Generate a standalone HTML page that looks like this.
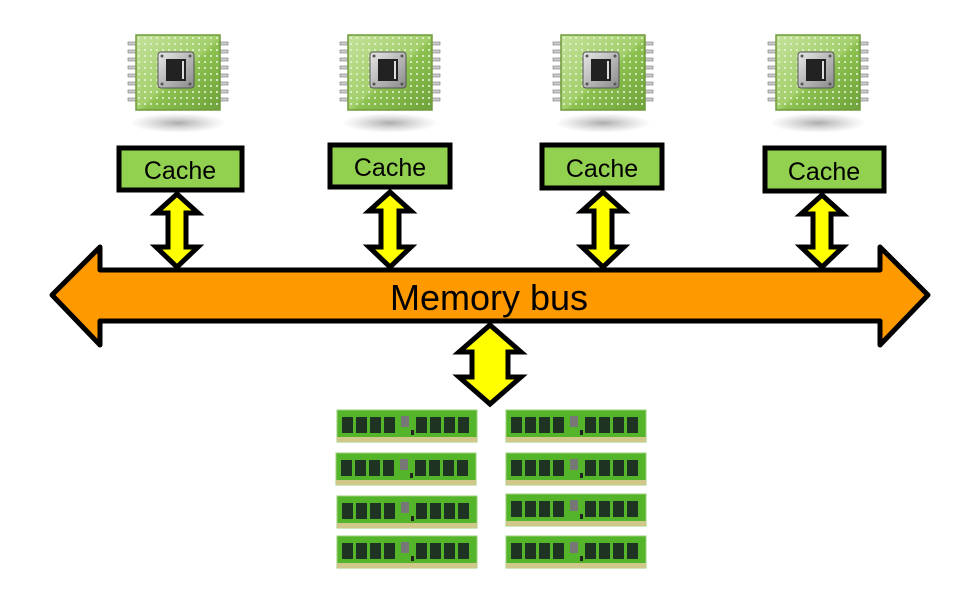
<!DOCTYPE html>
<html><head><meta charset="utf-8"><style>html,body{margin:0;padding:0;background:#fff}svg{display:block}</style></head><body>
<svg width="970" height="606" viewBox="0 0 970 606" xmlns="http://www.w3.org/2000/svg">
<defs>
<linearGradient id="cg" x1="0" y1="0" x2="1" y2="1"><stop offset="0" stop-color="#c4e29a"/><stop offset="0.5" stop-color="#a3cf6c"/><stop offset="0.55" stop-color="#8cc04f"/><stop offset="1" stop-color="#6ea23a"/></linearGradient>
<linearGradient id="sq" x1="0" y1="0" x2="1" y2="1"><stop offset="0" stop-color="#e8e8e8"/><stop offset="1" stop-color="#8a8a8a"/></linearGradient>
<radialGradient id="sh"><stop offset="0" stop-color="#888" stop-opacity="0.7"/><stop offset="1" stop-color="#aaa" stop-opacity="0"/></radialGradient>
<pattern id="dots" width="6" height="6" patternUnits="userSpaceOnUse"><rect x="2" y="2" width="2" height="2" fill="#e6f3d4" opacity="0.8"/></pattern>
<g id="cpu">
<ellipse cx="0" cy="88" rx="48" ry="10" fill="url(#sh)"/>
<g fill="#ccc" stroke="#888" stroke-width="0.7">
<rect x="-50" y="7" width="10" height="3"/><rect x="-50" y="15" width="10" height="3"/><rect x="-50" y="23" width="10" height="3"/><rect x="-50" y="31" width="10" height="3"/><rect x="-50" y="39" width="10" height="3"/><rect x="-50" y="47" width="10" height="3"/><rect x="-50" y="55" width="10" height="3"/><rect x="-50" y="63" width="10" height="3"/>
<rect x="40" y="7" width="10" height="3"/><rect x="40" y="15" width="10" height="3"/><rect x="40" y="23" width="10" height="3"/><rect x="40" y="31" width="10" height="3"/><rect x="40" y="39" width="10" height="3"/><rect x="40" y="47" width="10" height="3"/><rect x="40" y="55" width="10" height="3"/><rect x="40" y="63" width="10" height="3"/>
</g>
<rect x="-42" y="0" width="84" height="75" fill="url(#cg)" stroke="#6f9a3c" stroke-width="1.5"/>
<rect x="-40" y="2" width="80" height="71" fill="url(#dots)"/>
<rect x="-20" y="17" width="36" height="36" rx="3" fill="url(#sq)" stroke="#555" stroke-width="1"/>
<rect x="-12" y="24" width="20" height="22" fill="#222"/>
<rect x="4" y="26" width="2" height="18" fill="#ddd"/>
<circle cx="-16" cy="21" r="1.5" fill="#555"/><circle cx="12" cy="21" r="1.5" fill="#555"/><circle cx="-16" cy="49" r="1.5" fill="#555"/><circle cx="12" cy="49" r="1.5" fill="#555"/>
</g>
<g id="ram">
<rect x="0" y="0" width="140" height="32" fill="#55b52a" stroke="#9acf7a" stroke-width="1"/>
<rect x="0" y="27" width="140" height="5" fill="#cfc88a"/>
<g fill="#1f3322">
<rect x="5" y="7" width="11" height="16"/><rect x="19" y="7" width="11" height="16"/><rect x="33" y="7" width="11" height="16"/><rect x="47" y="7" width="11" height="16"/>
<rect x="79" y="7" width="11" height="16"/><rect x="93" y="7" width="11" height="16"/><rect x="107" y="7" width="11" height="16"/><rect x="121" y="7" width="11" height="16"/>
</g>
<rect x="64" y="6" width="8" height="11" fill="#777"/>
<rect x="74" y="20" width="3" height="5" fill="#222"/>
</g>
</defs>

<use href="#cpu" x="178" y="35"/>
<use href="#cpu" x="390" y="35"/>
<use href="#cpu" x="603" y="35"/>
<use href="#cpu" x="818" y="35"/>

<g fill="#92d050" stroke="#000" stroke-width="5">
<rect x="119" y="148" width="123" height="42"/>
<rect x="330" y="145" width="120" height="42"/>
<rect x="542" y="145" width="120" height="43"/>
<rect x="765" y="148" width="119" height="43"/>
</g>
<g font-family="'Liberation Sans', sans-serif" font-size="25" text-anchor="middle" fill="#000">
<text x="180" y="179">Cache</text>
<text x="390" y="176">Cache</text>
<text x="602" y="177">Cache</text>
<text x="824" y="180">Cache</text>
</g>

<path d="M52,295 L100,247 L100,270 L880,270 L880,247 L928,295 L880,345 L880,321 L100,321 L100,345 Z" fill="#ff9900" stroke="#000" stroke-width="5" stroke-linejoin="round"/>
<text x="489" y="310" font-family="'Liberation Sans', sans-serif" font-size="36" text-anchor="middle" fill="#000">Memory bus</text>

<g fill="#ffff00" stroke="#000" stroke-width="5" stroke-linejoin="miter">
<path d="M177,194 L198,213 L186,213 L186,247 L198,247 L177,267 L156,247 L168,247 L168,213 L156,213 Z"/>
<path d="M390,192 L411,211 L399,211 L399,247 L411,247 L390,267 L369,247 L381,247 L381,211 L369,211 Z"/>
<path d="M603,192 L624,211 L612,211 L612,247 L624,247 L603,267 L582,247 L594,247 L594,211 L582,211 Z"/>
<path d="M822,195 L843,214 L831,214 L831,247 L843,247 L822,267 L801,247 L813,247 L813,214 L801,214 Z"/>
<path d="M490,325 L521,352 L508,352 L508,377 L521,377 L490,404 L459,377 L472,377 L472,352 L459,352 Z"/>
</g>

<use href="#ram" x="337" y="410"/>
<use href="#ram" x="506" y="410"/>
<use href="#ram" x="336" y="453"/>
<use href="#ram" x="506" y="453"/>
<use href="#ram" x="337" y="496"/>
<use href="#ram" x="506" y="494"/>
<use href="#ram" x="337" y="536"/>
<use href="#ram" x="506" y="536"/>
</svg>
</body></html>
